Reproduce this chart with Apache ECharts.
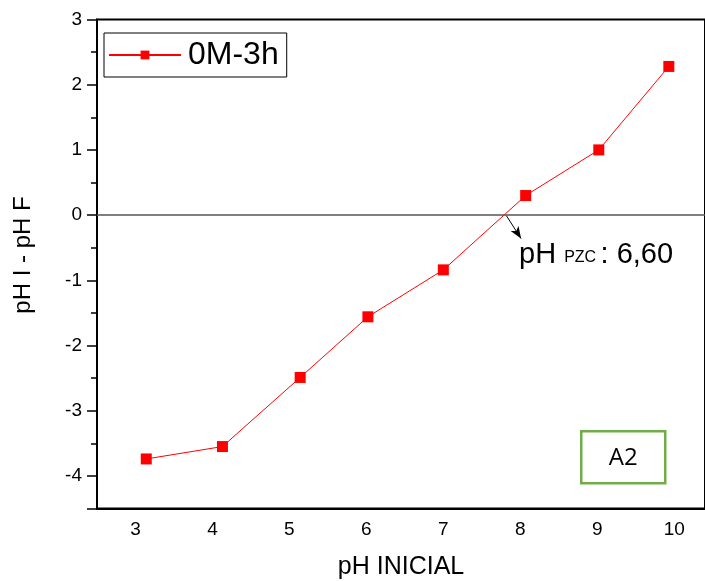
<!DOCTYPE html>
<html><head><meta charset="utf-8">
<script src="https://cdn.jsdelivr.net/npm/echarts@6/dist/echarts.min.js"></script>
<style>html,body{margin:0;padding:0;background:#fff}#c{width:705px;height:581px}</style>
</head><body><div id="c"></div>
<script>
var seriesName = '0M-3h';
var phInicial = [3.14, 4.13, 5.14, 6.02, 7.00, 8.07, 9.02, 9.93];
var deltaPH = [-3.74, -3.55, -2.49, -1.56, -0.84, 0.30, 1.00, 2.28];
var pzcArrowFrom = [7.82, -0.01];
var pzcArrowTo = [8.01, -0.36];
var xTitle = 'pH INICIAL';
var yTitle = 'pH I - pH F';
var tagText = 'A2';

var font = 'Liberation Sans, Arial, sans-serif';
var chart = echarts.init(document.getElementById('c'), null, {renderer: 'canvas'});
var data = phInicial.map(function (x, i) { return [x, deltaPH[i]]; });
chart.setOption({
  animation: false,
  grid: {left: 97, top: 19.5, right: 0, bottom: 72.5, show: true, borderColor: '#000', borderWidth: 2, containLabel: false, outerBoundsMode: 'none'},
  legend: {
    left: 104, top: 33, orient: 'vertical',
    padding: [6, 8, 6, 4],
    borderColor: '#000', borderWidth: 1,
    itemWidth: 72, itemHeight: 11, itemGap: 0,
    textStyle: {fontFamily: font, fontSize: 32, color: '#000', padding: [0, 0, 0, 2]},
    data: [seriesName]
  },
  xAxis: {
    type: 'value', min: 2.5, max: 10.4, splitNumber: 8, minInterval: 1, maxInterval: 1,
    name: xTitle, nameLocation: 'middle', nameGap: 46,
    nameTextStyle: {fontFamily: font, fontSize: 25, color: '#000'},
    axisLine: {show: true, onZero: false, lineStyle: {color: '#000', width: 2}},
    axisTick: {show: false},
    axisLabel: {showMinLabel: false, showMaxLabel: false, margin: 12, fontFamily: font, fontSize: 19, color: '#000'},
    splitLine: {show: false}
  },
  yAxis: {
    type: 'value', min: -4.5, max: 3, splitNumber: 8, minInterval: 1, maxInterval: 1,
    name: yTitle, nameLocation: 'middle', nameGap: 62,
    nameTextStyle: {fontFamily: font, fontSize: 24, color: '#000', padding: [0, 0, 0, 18]},
    axisLine: {show: true, onZero: false, lineStyle: {color: '#000', width: 2}},
    axisTick: {show: true, inside: false, length: 10, lineStyle: {color: '#000', width: 1.5}},
    minorTick: {show: true, splitNumber: 2, length: 6, lineStyle: {color: '#000', width: 1.5}},
    axisLabel: {showMinLabel: false, margin: 15, fontFamily: font, fontSize: 19, color: '#000'},
    splitLine: {show: false}
  },
  series: [{
    name: seriesName, type: 'line', data: data,
    symbol: 'rect', symbolSize: 11,
    itemStyle: {color: '#ff0000'},
    lineStyle: {color: '#ff0000', width: 1},
    markLine: {
      silent: true, animation: false,
      label: {show: false},
      data: [
        [{coord: [2.5, 0], symbol: 'none', lineStyle: {color: '#555', width: 1.5, type: 'solid'}},
         {coord: [10.4, 0], symbol: 'none'}],
        [{coord: pzcArrowFrom, symbol: 'none', lineStyle: {color: '#000', width: 1, type: 'solid'}},
         {coord: pzcArrowTo, symbol: 'arrow', symbolSize: [7, 12]}]
      ]
    }
  }],
  graphic: [
    {type: 'text', left: 519, top: 240, z: 100,
     style: {
       text: '{a|pH }{b|PZC }{a|: 6,60}',
       rich: {
         a: {fontFamily: font, fontSize: 29, fill: '#000', verticalAlign: 'bottom'},
         b: {fontFamily: font, fontSize: 16, fill: '#000', verticalAlign: 'bottom', padding: [0, 0, 3, 0]}
       }
     }},
    {type: 'group', left: 580, top: 430, z: 100, children: [
      {type: 'rect', shape: {x: 0, y: 0, width: 84, height: 52}, style: {fill: '#fff', stroke: '#70AD47', lineWidth: 2.5}},
      {type: 'text', x: 42, y: 27, style: {text: tagText, fontFamily: 'Open Sans, Carlito, sans-serif', fontSize: 24, fill: '#000', align: 'center', verticalAlign: 'middle'}}
    ]}
  ]
});
</script></body></html>
